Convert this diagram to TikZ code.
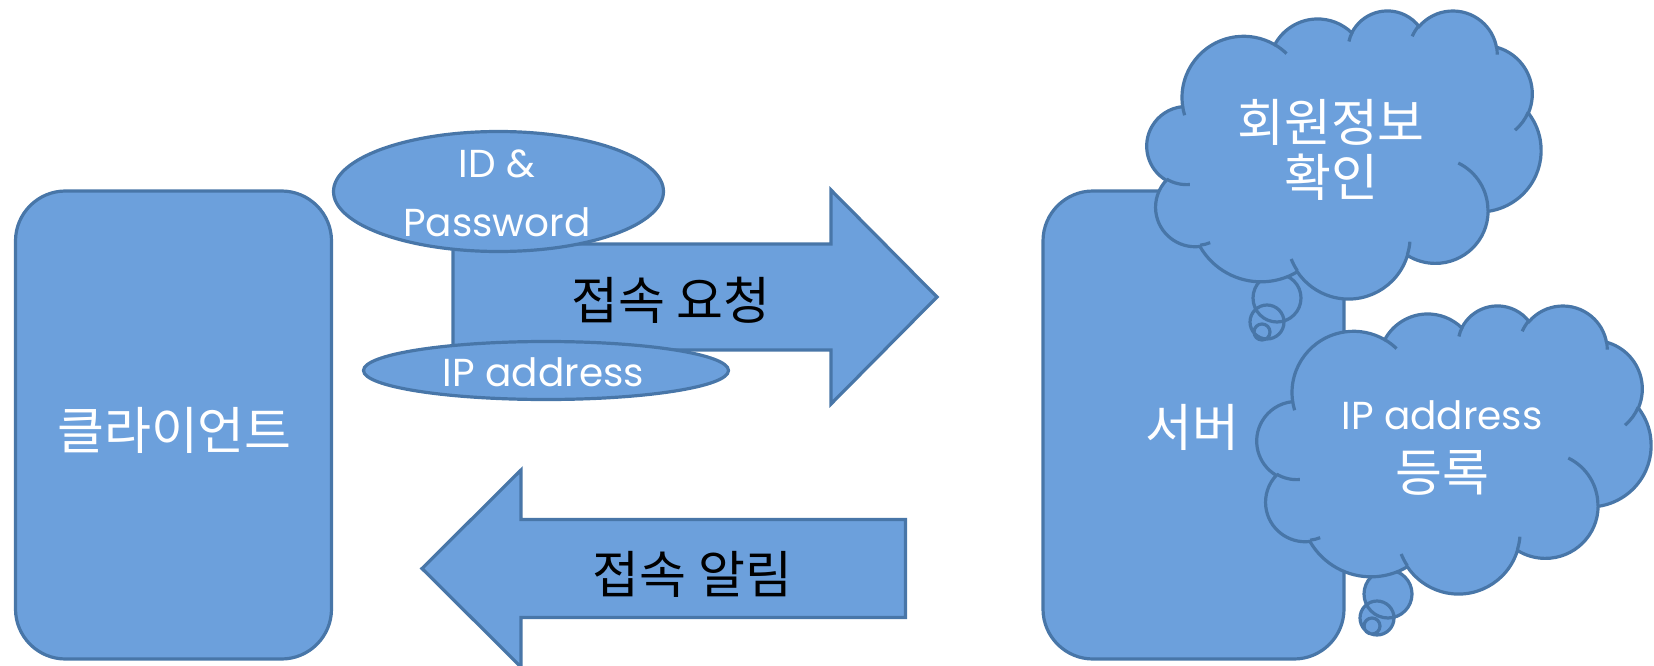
\documentclass[tikz,border=0pt]{standalone}
\usepackage{fontspec}
\setmainfont{Poppins}
\newfontfamily\kr{Noto Sans CJK KR}
\usetikzlibrary{shapes.geometric}
\definecolor{bfill}{RGB}{108,160,220}
\definecolor{bline}{RGB}{72,118,168}
% OOXML-style elliptic arc: wR, hR, start angle, sweep (visual angles)
\newcommand\oa[4]{arc[start angle={pa(#3,#1,#2)}, delta angle={pd(#3,#4,#1,#2)}, x radius=#1, y radius=#2]}
\newcommand\cloudmain{(39.00,143.70)
  \oa{67.53}{91.90}{-190.487}{123.781}
  \oa{53.33}{72.67}{-144.102}{89.945}
  \oa{43.65}{59.45}{-145.808}{99.723}
  \oa{48.57}{65.95}{-130.986}{117.242}
  \oa{53.33}{72.73}{-78.709}{109.027}
  \oa{67.75}{92.20}{-46.267}{130.269}
  \oa{57.85}{78.67}{0.625}{114.033}
  \oa{67.52}{92.15}{22.452}{115.173}
  \oa{77.20}{105.43}{66.243}{75.711}
  \oa{43.60}{59.18}{-274.942}{146.736}
  \oa{43.45}{59.45}{-246.829}{152.519} -- cycle}
\newcommand\cloudinner{%
  (46.93,261.77) \oa{43.45}{59.45}{86.742}{26.430}
  (69.28,348.99) \oa{43.60}{59.18}{73.610}{11.447}
  (164.78,390.90) \oa{67.52}{92.15}{137.624}{14.081}
  (288.27,347.51) \oa{67.52}{92.15}{6.453}{15.998}
  (341.29,229.54) \oa{57.85}{78.67}{-70.292}{70.917}
  (417.98,153.54) \oa{53.33}{72.73}{30.318}{27.752}
  (383.24,54.26) \oa{48.57}{65.95}{-13.744}{14.859}
  (290.78,39.52) \oa{48.57}{65.95}{-149.181}{18.195}
  (221.41,47.20) \oa{43.65}{59.45}{-163.494}{17.686}
  (140.00,51.92) \oa{67.53}{91.90}{-66.707}{12.319}
  (41.27,157.89) \oa{67.53}{91.90}{157.654}{11.858}}
\begin{document}
\begin{tikzpicture}[x=1pt,y=-1pt,
  declare function={pa(\a,\w,\h)=atan2(\w*sin(\a),\h*cos(\a));
                    pd(\a,\s,\w,\h)=mod(pa(\a+\s,\w,\h)-pa(\a,\w,\h)+720,360);},
  shapebox/.style={draw=bline, fill=bfill, line width=3.2pt, line join=miter},
  hint/.style={draw=bline, line width=3.2pt},
  plainbox/.style={shapebox, inner sep=0pt},
  wtxt/.style={text=white, inner sep=0pt},
  btxt/.style={text=black, inner sep=0pt},
  kfont/.style={font=\kr\fontsize{51}{55}\selectfont},
  lfont/.style={font=\fontsize{39}{59}\selectfont}]
\useasboundingbox (0,0) rectangle (1654,666);

% client
\node[plainbox, rounded corners=50pt, minimum width=316pt, minimum height=468pt] (client) at (173.5,425) {};
\node[wtxt, kfont] (clienttxt) at (174.5,430) {클라이언트};

% request arrow
\filldraw[shapebox] (453,244) -- (831,244) -- (831,190) -- (937,297) -- (831,404) -- (831,350) -- (453,350) -- cycle;
\node[btxt, kfont] (reqtxt) at (671,300.5) {접속 요청};

% ellipses
\node[plainbox, ellipse, minimum width=330pt, minimum height=120pt] (idpw) at (498.5,191.5) {};
\node[wtxt, lfont, align=center] (idpwtxt) at (497,193.75) {ID \&\\Password};
\node[plainbox, ellipse, minimum width=365pt, minimum height=58pt] (ipaddr) at (546,370.5) {};
\node[wtxt, lfont] (iptxt) at (543.5,372) {IP address};

% notification arrow
\filldraw[shapebox] (905.5,519.5) -- (521,519.5) -- (521,470) -- (422,568.5) -- (521,667) -- (521,617.5) -- (905.5,617.5) -- cycle;
\node[btxt, kfont] (notitxt) at (692.5,574.5) {접속 알림};

% server
\node[plainbox, rounded corners=50pt, minimum width=301pt, minimum height=468pt] (server) at (1193.5,425) {};
\node[wtxt, kfont] (servertxt) at (1192,427) {서버};

% cloud 1
\filldraw[shapebox] (1277,298) circle[radius=24] (1267,322) circle[radius=17] (1262,332) circle[radius=8];
\begin{scope}[shift={(1147,10)}, x=0.912pt, y=-0.6667pt]
  \filldraw[shapebox] \cloudmain;
  \draw[hint] \cloudinner;
\end{scope}
\node[wtxt, kfont, align=center] (c1txt) at (1331,149.5) {회원정보\\확인};

% cloud 2
\filldraw[shapebox] (1388,594) circle[radius=24] (1377,618) circle[radius=17] (1372,626) circle[radius=8];
\begin{scope}[shift={(1257,305)}, x=0.912pt, y=-0.6667pt]
  \filldraw[shapebox] \cloudmain;
  \draw[hint] \cloudinner;
\end{scope}
\node[wtxt, font=\fontsize{39}{62}\selectfont, align=center] (c2txt) at (1442,447.75) {IP address\\{\kr\fontsize{51}{62}\selectfont 등록}};
\end{tikzpicture}
\end{document}
